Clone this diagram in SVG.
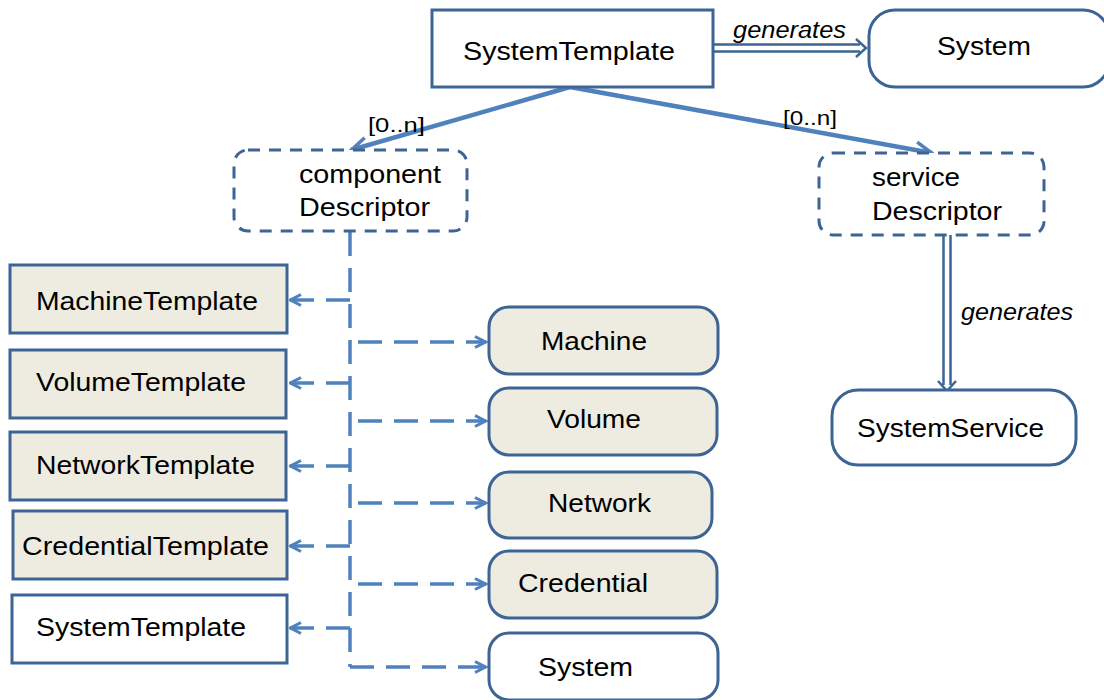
<svg xmlns="http://www.w3.org/2000/svg" width="1104" height="700" viewBox="0 0 1104 700">
<style>
.box{fill:#FFFFFF;stroke:#3C6494;stroke-width:3}
.tan{fill:#EEECE1}
.dash{fill:#FFFFFF;stroke:#3C6494;stroke-width:3;stroke-dasharray:12 9}
.t{font-family:"Liberation Sans",Arial,sans-serif;font-size:26px;fill:#000000}
.it{font-family:"Liberation Sans",Arial,sans-serif;font-size:23px;font-style:italic;fill:#000000}
.sm{font-family:"Liberation Sans",Arial,sans-serif;font-size:21px;fill:#000000}
.conn{fill:none;stroke:#4F81BD;stroke-width:4.5}
.dconn{fill:none;stroke:#4F81BD;stroke-width:3.5;stroke-dasharray:24 12}
.gen{fill:none;stroke:#3C6494;stroke-width:2.5}
</style>
<defs>
<marker id="open" viewBox="0 0 14 14" refX="12.5" refY="7" markerWidth="14" markerHeight="14" markerUnits="userSpaceOnUse" orient="auto">
<path d="M1.5,1.5 L12,7 L1.5,12.5" fill="none" stroke="#4F81BD" stroke-width="3"/>
</marker>
<marker id="open2" viewBox="0 0 20 20" refX="18.5" refY="10" markerWidth="20" markerHeight="20" markerUnits="userSpaceOnUse" orient="auto">
<path d="M2,2 L18,10 L2,18" fill="none" stroke="#4F81BD" stroke-width="3.5"/>
</marker>
</defs>

<g id="connectors">
<line class="conn" x1="570" y1="87" x2="351" y2="150" marker-end="url(#open2)"/>
<line class="conn" x1="570" y1="87" x2="932" y2="153" marker-end="url(#open2)"/>
<path class="gen" d="M713,44.5 H860 M713,51.5 H860 M856,39 L866,48 L856,57"/>
<path class="gen" d="M943.5,235 V385 M950.5,235 V385 M938,381 L947,391 L956,381"/>
<path class="dconn" d="M350,232 V667"/>
<path class="dconn" d="M350,300 H290" marker-end="url(#open)"/>
<path class="dconn" d="M350,383 H290" marker-end="url(#open)"/>
<path class="dconn" d="M350,466 H290" marker-end="url(#open)"/>
<path class="dconn" d="M350,546 H290" marker-end="url(#open)"/>
<path class="dconn" d="M350,628 H290" marker-end="url(#open)"/>
<path class="dconn" d="M358,342 H486" marker-end="url(#open)"/>
<path class="dconn" d="M358,421 H486" marker-end="url(#open)"/>
<path class="dconn" d="M358,503 H486" marker-end="url(#open)"/>
<path class="dconn" d="M358,584 H486" marker-end="url(#open)"/>
<path class="dconn" d="M350,667 H486" marker-end="url(#open)"/>
<text class="it" x="733" y="38" textLength="113" lengthAdjust="spacingAndGlyphs">generates</text>
<text class="it" x="961" y="320" textLength="112" lengthAdjust="spacingAndGlyphs">generates</text>
<text class="sm" x="368" y="132" textLength="57" lengthAdjust="spacingAndGlyphs">[0..n]</text>
<text class="sm" x="783" y="125" textLength="54" lengthAdjust="spacingAndGlyphs">[0..n]</text>
</g>

<g id="systemTemplateTop">
<rect class="box" x="432" y="10" width="281" height="77"/>
<text class="t" x="463" y="60" textLength="212" lengthAdjust="spacingAndGlyphs">SystemTemplate</text>
</g>
<g id="systemTop">
<rect class="box" x="869" y="10" width="240" height="77" rx="26"/>
<text class="t" x="937" y="55" textLength="94" lengthAdjust="spacingAndGlyphs">System</text>
</g>
<g id="componentDescriptor">
<rect class="dash" x="234" y="150" width="233" height="81" rx="14"/>
<text class="t" x="299" y="183" textLength="142" lengthAdjust="spacingAndGlyphs">component</text>
<text class="t" x="299" y="216" textLength="131" lengthAdjust="spacingAndGlyphs">Descriptor</text>
</g>
<g id="serviceDescriptor">
<rect class="dash" x="819" y="153" width="225" height="82" rx="14"/>
<text class="t" x="872" y="186" textLength="88" lengthAdjust="spacingAndGlyphs">service</text>
<text class="t" x="872" y="220" textLength="130" lengthAdjust="spacingAndGlyphs">Descriptor</text>
</g>
<g id="systemService">
<rect class="box" x="832" y="390" width="244" height="75" rx="26"/>
<text class="t" x="857" y="437" textLength="187" lengthAdjust="spacingAndGlyphs">SystemService</text>
</g>

<g id="machineTemplate">
<rect class="box tan" x="10" y="265" width="277" height="68"/>
<text class="t" x="36" y="310" textLength="222" lengthAdjust="spacingAndGlyphs">MachineTemplate</text>
</g>
<g id="volumeTemplate">
<rect class="box tan" x="10" y="350" width="276" height="68"/>
<text class="t" x="36" y="391" textLength="210" lengthAdjust="spacingAndGlyphs">VolumeTemplate</text>
</g>
<g id="networkTemplate">
<rect class="box tan" x="10" y="432" width="276" height="68"/>
<text class="t" x="36" y="474" textLength="219" lengthAdjust="spacingAndGlyphs">NetworkTemplate</text>
</g>
<g id="credentialTemplate">
<rect class="box tan" x="13" y="511" width="274" height="68"/>
<text class="t" x="22" y="555" textLength="247" lengthAdjust="spacingAndGlyphs">CredentialTemplate</text>
</g>
<g id="systemTemplateBottom">
<rect class="box" x="12" y="595" width="275" height="68"/>
<text class="t" x="36" y="636" textLength="210" lengthAdjust="spacingAndGlyphs">SystemTemplate</text>
</g>

<g id="machine">
<rect class="box tan" x="489" y="307" width="229" height="67" rx="20"/>
<text class="t" x="541" y="350" textLength="106" lengthAdjust="spacingAndGlyphs">Machine</text>
</g>
<g id="volume">
<rect class="box tan" x="489" y="388" width="228" height="67" rx="20"/>
<text class="t" x="547" y="428" textLength="94" lengthAdjust="spacingAndGlyphs">Volume</text>
</g>
<g id="network">
<rect class="box tan" x="489" y="472" width="223" height="66" rx="20"/>
<text class="t" x="548" y="512" textLength="103" lengthAdjust="spacingAndGlyphs">Network</text>
</g>
<g id="credential">
<rect class="box tan" x="489" y="551" width="228" height="67" rx="20"/>
<text class="t" x="518" y="592" textLength="130" lengthAdjust="spacingAndGlyphs">Credential</text>
</g>
<g id="systemBottom">
<rect class="box" x="489" y="633" width="229" height="67" rx="20"/>
<text class="t" x="538" y="676" textLength="95" lengthAdjust="spacingAndGlyphs">System</text>
</g>
</svg>
